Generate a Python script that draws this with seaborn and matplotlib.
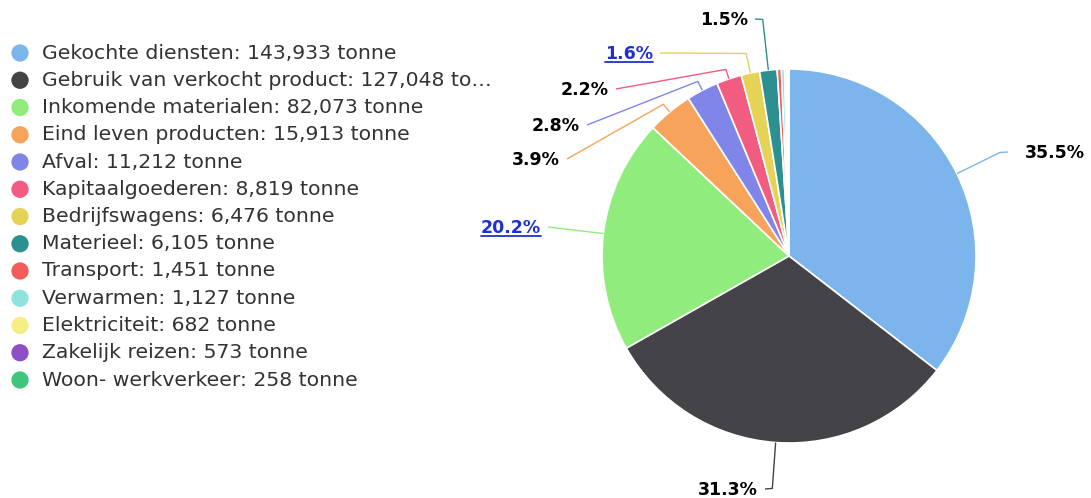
import matplotlib
matplotlib.use("Agg")
import matplotlib.pyplot as plt
import seaborn as sns
import numpy as np

# ---------------- data ----------------
categories = [
    "Gekochte diensten", "Gebruik van verkocht product", "Inkomende materialen",
    "Eind leven producten", "Afval", "Kapitaalgoederen", "Bedrijfswagens",
    "Materieel", "Transport", "Verwarmen", "Elektriciteit", "Zakelijk reizen",
    "Woon- werkverkeer",
]
values = [143933, 127048, 82073, 15913, 11212, 8819, 6476, 6105, 1451, 1127, 682, 573, 258]
unit = "tonne"
colors = [
    "#7cb5ec", "#434348", "#90ed7d", "#f7a35c", "#8085e9", "#f15c80", "#e4d354",
    "#2b908f", "#f45b5b", "#8fe3de", "#f5ee84", "#8e4ec6", "#3fc57d",
]

# ---------------- layout (pixels, y downward) ----------------
W, H = 1091, 498
pie_cx, pie_cy, pie_r = 789, 256, 187
label_ends = [(1008, 152), (765, 489), (548, 227), (567, 159),
              (587, 125), (616, 89), (660, 53), (755, 19)]
elbow_radius = [235, 233, 197, 197, 197, 197, 207, 238]
link_labels = [False, False, True, False, False, False, True, False]

sns.set_theme(style="white")
plt.rcParams['font.family'] = ['DejaVu Sans']

fig = plt.figure(figsize=(W / 100, H / 100), dpi=100)
ax = fig.add_axes([0, 0, 1, 1])


def py(y):
    return H - y


wedges, _ = ax.pie(values, colors=colors, startangle=90, counterclock=False,
                   center=(pie_cx, py(pie_cy)), radius=pie_r,
                   wedgeprops=dict(edgecolor="white", linewidth=1.2))
ax.set_xlim(0, W)
ax.set_ylim(0, H)
ax.set_aspect("equal")
ax.axis("off")

total = float(sum(values))
pcts = [v / total * 100 for v in values]

# data labels with connectors
labelled = [i for i, p in enumerate(pcts) if p >= 1.0]
underline_texts = []
for k, i in enumerate(labelled):
    w = wedges[i]
    mid = np.deg2rad((w.theta1 + w.theta2) / 2.0)
    cx, cy = pie_cx, py(pie_cy)
    edge = (cx + pie_r * np.cos(mid), cy + pie_r * np.sin(mid))
    er = elbow_radius[k]
    elbow = (cx + er * np.cos(mid), cy + er * np.sin(mid))
    ex, ey = label_ends[k]
    end = (ex, py(ey))
    ax.plot([edge[0], elbow[0], end[0]], [edge[1], elbow[1], end[1]],
            color=colors[i], lw=1.0, solid_capstyle="butt", zorder=3)
    right = ex > pie_cx
    tx = ex + 17 if right else ex - 7
    col = "#1f2fd6" if link_labels[k] else "#000000"
    t = ax.text(tx, py(ey + 1), f"{pcts[i]:.1f}%", ha="left" if right else "right",
                va="center", fontsize=12.5, fontweight="bold", color=col)
    if link_labels[k]:
        underline_texts.append((t, col))

# legend
for i, (name, v) in enumerate(zip(categories, values)):
    yy = 53 + i * 27.25
    ax.scatter([20], [py(yy)], s=155, color=colors[i], edgecolors="none", zorder=4)
    lab = f"{name}: {v:,} {unit}"
    if len(lab) > 41:
        lab = lab[:40] + "…"
    ax.text(42, py(yy), lab, ha="left", va="center", fontsize=14.7, color="#333333")

# underline the link-style labels
fig.canvas.draw()
renderer = fig.canvas.get_renderer()
inv = ax.transData.inverted()
for t, col in underline_texts:
    bb = t.get_window_extent(renderer)
    (x0, y0), (x1, y1) = inv.transform([(bb.x0, bb.y0), (bb.x1, bb.y1)])
    ax.plot([x0, x1], [y0 + 1.5, y0 + 1.5], color=col, lw=1.3)

fig.savefig("out.png", dpi=100)
